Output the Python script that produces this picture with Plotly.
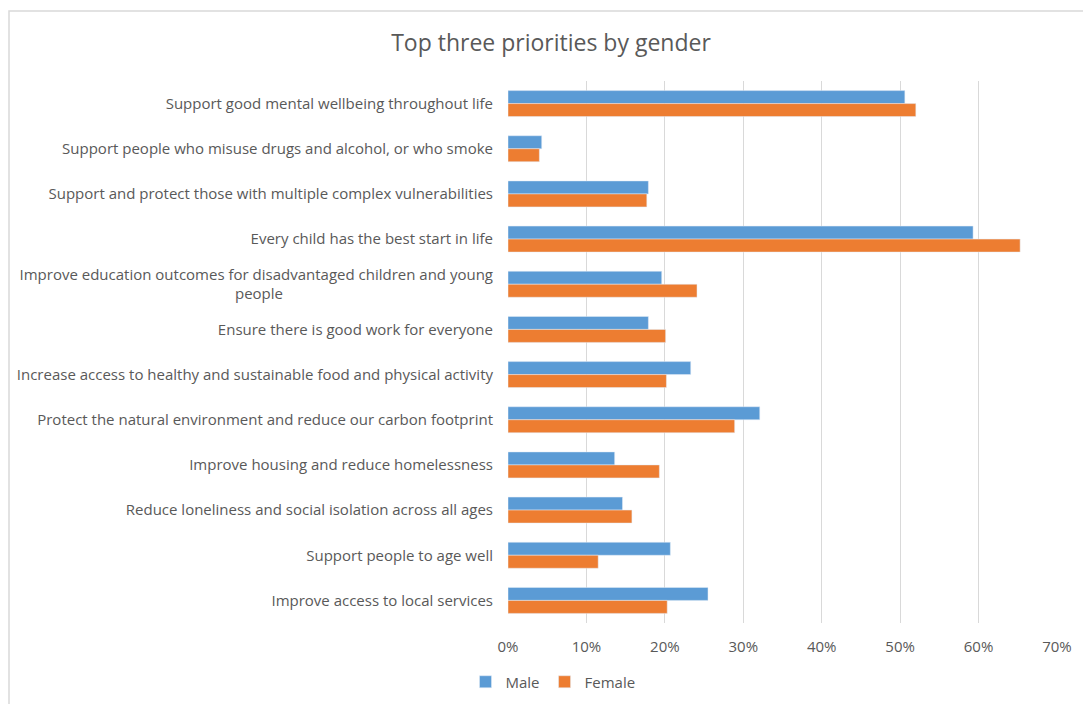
import plotly.graph_objects as go

categories = [
    "Support good mental wellbeing throughout life",
    "Support people who misuse drugs and alcohol, or who smoke",
    "Support and protect those with multiple complex vulnerabilities",
    "Every child has the best start in life",
    "Improve education outcomes for disadvantaged children and young<br>people" + "\u2003" * 14,
    "Ensure there is good work for everyone",
    "Increase access to healthy and sustainable food and physical activity",
    "Protect the natural environment and reduce our carbon footprint",
    "Improve housing and reduce homelessness",
    "Reduce loneliness and social isolation across all ages",
    "Support people to age well",
    "Improve access to local services",
]
male = [0.506, 0.043, 0.179, 0.593, 0.196, 0.179, 0.233, 0.321, 0.136, 0.146, 0.207, 0.255]
female = [0.520, 0.040, 0.177, 0.653, 0.241, 0.201, 0.202, 0.289, 0.193, 0.158, 0.115, 0.203]
x_ticks = [0, 0.1, 0.2, 0.3, 0.4, 0.5, 0.6, 0.7]

W, H = 1083, 704
L, R, T, B = 508, 26, 81, 81
pw, ph = W - L - R, H - T - B

FONT = "Open Sans"
GREY = "#595959"

fig = go.Figure()
fig.add_trace(go.Bar(y=categories, x=male, name="Male", orientation="h",
                     marker=dict(color="#5B9BD5")))
fig.add_trace(go.Bar(y=categories, x=female, name="Female", orientation="h",
                     marker=dict(color="#ED7D31")))

def px_x(p):
    return (p - L) / pw

def px_y(p):
    return (H - B - p) / ph

fig.update_layout(
    width=W, height=H,
    margin=dict(l=L, r=R, t=T, b=B, autoexpand=False),
    paper_bgcolor="white", plot_bgcolor="white",
    barmode="group", bargap=0.425, bargroupgap=0,
    font=dict(family=FONT, size=15, color=GREY),
    title=dict(text="Top three priorities by gender", x=551 / W, xref="container",
               y=1 - 43 / H, yref="container", xanchor="center", yanchor="middle",
               font=dict(size=23, color=GREY, family=FONT)),
    xaxis=dict(range=[0, 0.7], tickvals=x_ticks, tickformat=".0%", automargin=False,
               showgrid=True, gridcolor="#D9D9D9", gridwidth=1,
               zeroline=False, showline=False, ticks="", fixedrange=True,
               ticklabelstandoff=13, tickfont=dict(size=15, color=GREY)),
    yaxis=dict(autorange="reversed", showgrid=False, zeroline=False, showline=False,
               automargin=False,
               ticks="", ticklabelstandoff=14, tickfont=dict(size=15, color=GREY)),
    legend=dict(orientation="h", x=px_x(553), xanchor="center", y=px_y(682), yanchor="middle",
                font=dict(size=15, color=GREY), traceorder="normal", itemwidth=30),
    showlegend=True,
    shapes=[dict(type="rect", xref="paper", yref="paper",
                 x0=px_x(9), x1=px_x(1090), y0=px_y(720), y1=px_y(11),
                 line=dict(color="#D9D9D9", width=1.5), layer="below")],
)

fig.write_html("out.html", config={"displayModeBar": False},
               post_script="document.body.style.margin='0';")
